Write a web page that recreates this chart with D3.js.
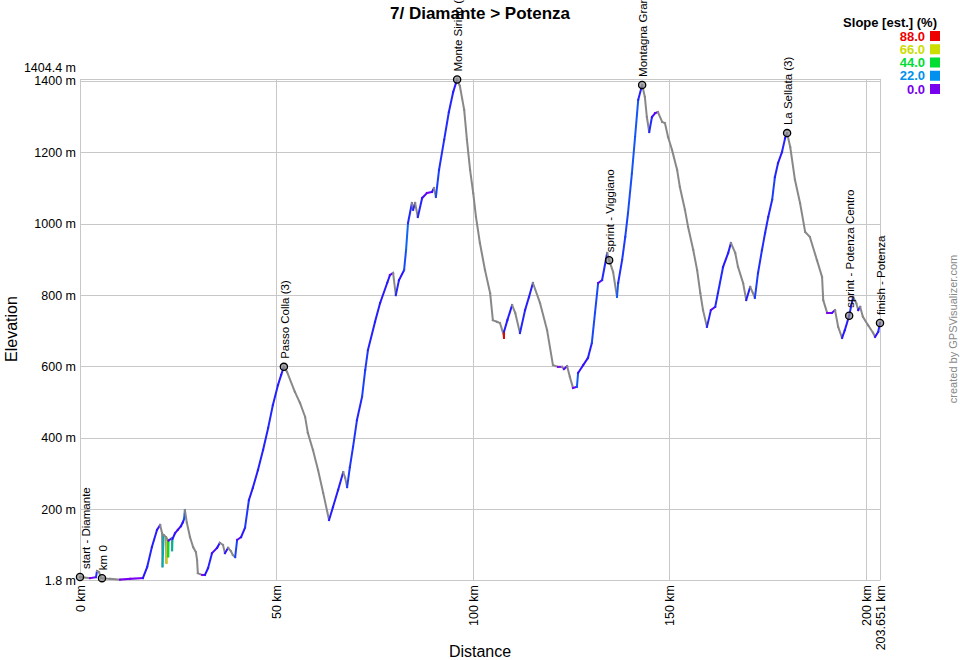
<!DOCTYPE html>
<html><head><meta charset="utf-8">
<script src="https://cdn.jsdelivr.net/npm/d3@7"></script>
<style>
body{margin:0;background:#fff}
svg{display:block}
text{font-family:"Liberation Sans",Arial,Helvetica,sans-serif}
</style>
</head><body>
<svg id="chart" width="960" height="660"></svg>
<script>
// ---- data ----
const distanceKm = [0,2.55,4.07,4.33,4.84,5.35,7.64,10.2,12.7,16.0,17.1,18.3,19.6,20.4,20.9,21.0,21.3,21.9,22.0,22.1,22.4,22.45,22.55,23.4,23.45,23.55,24.2,24.9,25.7,26.2,26.5,26.7,27.2,28.0,28.8,29.5,29.8,30.0,31.1,31.8,32.6,33.6,34.9,35.6,36.4,36.9,37.7,38.4,38.9,39.5,40.0,41.0,42.0,43.0,
44.0,45.3,46.6,47.9,49.1,50.4,51.2,51.9,52.7,54.7,56.0,57.3,58.0,59.3,60.6,61.9,63.4,64.4,65.7,67.0,67.5,68.0,68.7,69.5,70.5,71.8,72.6,73.3,75.1,76.4,78.2,78.9,79.7,80.4,81.2,82.5,83.0,83.5,84.5,84.8,85.3,86.0,87.1,88.3,89.6,90.1,90.6,91.4,92.7,93.9,95.0,95.7,96.0,
96.7,97.8,98.5,99.3,100.1,100.8,101.8,103.1,104.4,105.1,106.2,106.9,107.7,107.93,107.95,108.8,110.0,110.8,112.0,113.3,114.3,115.3,117.1,118.9,120.4,121.7,122.7,123.2,124.0,124.7,125.5,126.5,126.8,128.1,129.3,130.3,131.1,131.9,132.9,134.2,134.7,135.7,136.7,137.0,138.0,138.8,139.5,140.5,141.3,142.1,143.1,
143.8,144.3,144.9,145.6,146.4,147.1,148.2,148.9,149.7,150.7,152.0,152.7,154.0,154.8,156.1,157.1,157.9,158.6,159.6,160.6,161.7,162.4,163.7,165.0,165.7,166.8,167.5,168.8,169.6,170.6,171.3,171.8,172.6,173.6,174.4,175.2,176.2,176.9,177.7,178.7,179.5,180.0,
180.8,182.0,183.3,184.6,185.8,187.6,188.9,189.2,190.2,191.4,192.2,193.0,194.0,194.7,195.8,196.8,197.6,198.1,198.6,199.3,200.6,201.9,202.4,203.2,203.651];
const elevationM = [10,7,10,27,24,7,5,3,5,7,38,94,142,156,133,40,128,122,50,118,114,68,112,119,85,117,133,142,153,164,173,198,162,122,94,80,58,21,16,16,35,77,92,106,100,77,92,83,72,66,114,122,148,226,
260,310,366,428,492,548,576,599,585,529,498,459,414,366,310,246,170,206,254,304,288,262,318,374,450,515,590,646,725,778,834,856,862,800,842,870,926,1002,1058,1039,1058,1019,1072,1086,1089,1100,1075,1151,1235,1313,1369,1394,1404,
1386,1319,1235,1151,1086,1019,946,870,806,730,725,722,694,680,698,730,772,750,694,758,795,834,778,702,604,599,599,593,601,571,540,543,582,604,624,666,750,834,842,918,898,865,795,834,898,963,1030,1142,1243,1347,1389,
1355,1299,1257,1299,1310,1313,1285,1282,1243,1207,1151,1103,1039,991,927,870,806,758,711,758,767,806,879,918,946,918,879,834,786,823,806,792,862,926,974,1019,1067,1131,1170,1201,1240,1254,
1215,1123,1058,977,963,898,851,786,750,750,758,711,680,702,742,795,778,758,767,739,716,694,683,697,722];

const waypointNames = ["start - Diamante","km 0","Passo Colla (3)","Monte Sirino (1)","sprint - Viggiano","Montagna Grande (1)","La Sellata (3)","sprint - Potenza Centro","finish - Potenza"];
const waypointKm    = [0, 5.6, 51.9, 96.0, 134.7, 143.1, 180.0, 195.8, 203.651];
const waypointElev  = [10, 7, 599, 1404, 898, 1389, 1254, 742, 722];

const xTickValues = [0, 50, 100, 150, 200, 203.651];
const yTickValues = [1.8, 200, 400, 600, 800, 1000, 1200, 1400, 1404.4];
const slopeLegendValues = [88, 66, 44, 22, 0];
const slopeLegendColors = ["#ee0000", "#ccdd00", "#00dd33", "#0090ee", "#7700ee"];

const titleText = "7/ Diamante > Potenza";

// ---- layout ----
const L = 80, R = 880, T = 79.4, B = 580;
const svg = d3.select("#chart");

const x = d3.scaleLinear().domain([0, 203.651]).range([L, R]);
const y = d3.scaleLinear().domain([1.8, 1404.4]).range([B, T]);

// slope colour: negative = grey, otherwise scale through legend colours
const slopeColor = d3.scaleLinear()
  .domain([0, 2, 22, 44, 66, 88])
  .range(["#7a00f0", "#2a12ff", "#0090ee", "#00dd33", "#ccdd00", "#ee0000"])
  .clamp(true);

// ---- grid / axes ----
const gx = svg.append("g").attr("transform", `translate(0,${B})`)
  .call(d3.axisBottom(x).tickValues(xTickValues).tickSizeInner(-(B - T)).tickSizeOuter(0)
    .tickFormat(d => d + " km"));
gx.select(".domain").attr("stroke", "#c8c8c8");
gx.selectAll(".tick line").attr("stroke", "#c8c8c8").attr("shape-rendering", "crispEdges");
gx.selectAll(".tick text")
  .attr("transform", "rotate(-90)")
  .attr("x", -5).attr("y", 0).attr("dy", "0.35em")
  .attr("text-anchor", "end")
  .attr("font-size", 12.5).attr("fill", "#000")
  .attr("font-family", '"Liberation Sans",Arial,sans-serif');

const gy = svg.append("g").attr("transform", `translate(${L},0)`)
  .call(d3.axisLeft(y).tickValues(yTickValues).tickSizeInner(-(R - L)).tickSizeOuter(0).tickPadding(4)
    .tickFormat(d => d + " m"));
gy.select(".domain").attr("stroke", "#c8c8c8");
gy.selectAll(".tick line").attr("stroke", "#c8c8c8").attr("shape-rendering", "crispEdges");
gy.selectAll(".tick text")
  .attr("font-size", 12.5).attr("fill", "#000")
  .attr("font-family", '"Liberation Sans",Arial,sans-serif')
  .attr("dy", d => d === d3.max(yTickValues) ? "-0.62em" : "0.32em");

// ---- profile line, coloured by slope ----
const segs = d3.range(distanceKm.length - 1).map(i => {
  const dd = distanceKm[i + 1] - distanceKm[i];
  const de = elevationM[i + 1] - elevationM[i];
  return {i, slope: de / (dd * 1000) * 100};
});
svg.append("g").selectAll("line").data(segs).join("line")
  .attr("x1", s => x(distanceKm[s.i])).attr("y1", s => y(elevationM[s.i]))
  .attr("x2", s => x(distanceKm[s.i + 1])).attr("y2", s => y(elevationM[s.i + 1]))
  .attr("stroke", s => s.slope < 0 ? "#888888" : slopeColor(s.slope))
  .attr("stroke-width", 2).attr("stroke-linecap", "square");

// ---- waypoints ----
const wp = svg.append("g");
waypointNames.forEach((name, i) => {
  const cx = x(waypointKm[i]), cy = y(waypointElev[i]);
  wp.append("circle").attr("cx", cx).attr("cy", cy).attr("r", 3.6)
    .attr("fill", "rgba(140,140,140,0.7)").attr("stroke", "#000").attr("stroke-width", 1.3);
  const lx = cx + (i === 0 ? 6 : 1);
  wp.append("text")
    .attr("transform", `translate(${lx},${cy - 8}) rotate(-90)`)
    .attr("dy", "0.35em").attr("text-anchor", "start")
    .attr("font-size", 11.5).attr("fill", "#000")
    .text(name);
});

// ---- titles ----
svg.append("text").attr("x", 480).attr("y", 19).attr("text-anchor", "middle")
  .attr("font-size", 17).attr("font-weight", "bold").text(titleText);
svg.append("text").attr("x", 480).attr("y", 657).attr("text-anchor", "middle")
  .attr("font-size", 16).text("Distance");
svg.append("text").attr("transform", "translate(17,329) rotate(-90)").attr("text-anchor", "middle")
  .attr("font-size", 16).text("Elevation");
svg.append("text").attr("transform", "translate(957,329) rotate(-90)").attr("text-anchor", "middle")
  .attr("font-size", 11).attr("fill", "#888").text("created by GPSVisualizer.com");

// ---- legend ----
const lg = svg.append("g");
lg.append("text").attr("x", 937).attr("y", 27).attr("text-anchor", "end")
  .attr("font-size", 13).attr("font-weight", "bold").text("Slope [est.] (%)");
const rowY = d3.scalePoint().domain(slopeLegendValues).range([36, 89]);
slopeLegendValues.forEach((v, i) => {
  lg.append("text").attr("x", 925).attr("y", rowY(v) + 4.5).attr("text-anchor", "end")
    .attr("font-size", 13).attr("font-weight", "bold").attr("fill", slopeLegendColors[i])
    .text(d3.format(".1f")(v));
  lg.append("rect").attr("x", 930).attr("y", rowY(v) - 5).attr("width", 10).attr("height", 10)
    .attr("fill", slopeLegendColors[i]);
});
</script>
</body></html>
